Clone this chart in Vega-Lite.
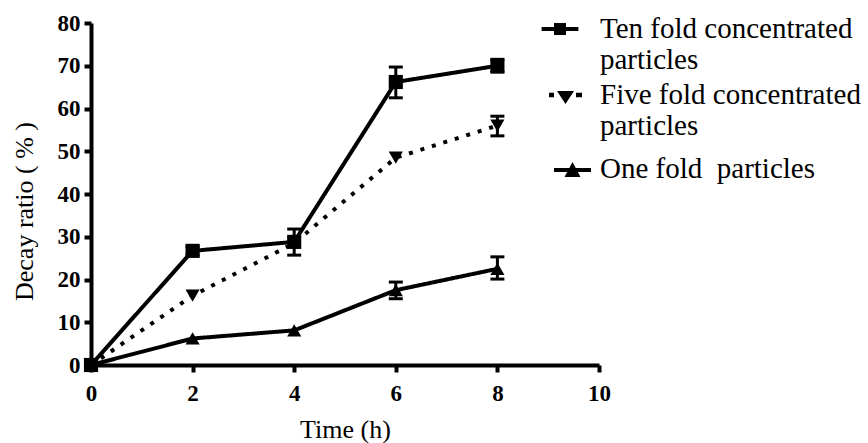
{
  "$schema": "https://vega.github.io/schema/vega-lite/v6.json",
  "width": 508,
  "height": 342,
  "autosize": {"type": "none"},
  "padding": {"left": 91, "top": 23, "right": 269, "bottom": 78},
  "background": "white",
  "config": {
    "view": {"stroke": null},
    "font": "Liberation Serif",
    "legend": {"labelFont": "Liberation Serif", "labelFontSize": 29},
    "axis": {
      "grid": false,
      "domainColor": "black",
      "domainWidth": 4,
      "tickColor": "black",
      "tickWidth": 4,
      "tickSize": 7,
      "labelFont": "Liberation Serif",
      "labelFontWeight": "bold",
      "labelFontSize": 23,
      "labelColor": "black",
      "labelFlush": false,
      "labelOverlap": false,
      "titleFont": "Liberation Serif",
      "titleFontWeight": "normal",
      "titleFontSize": 26,
      "titleColor": "black"
    }
  },
  "datasets": {
    "main": [
      {"series": "Ten", "time": 0, "ratio": 0},
      {"series": "Ten", "time": 2, "ratio": 26.7},
      {"series": "Ten", "time": 4, "ratio": 28.8},
      {"series": "Ten", "time": 6, "ratio": 66.2},
      {"series": "Ten", "time": 8, "ratio": 70.0},
      {"series": "Five", "time": 0, "ratio": 0},
      {"series": "Five", "time": 2, "ratio": 16.2},
      {"series": "Five", "time": 4, "ratio": 28.5},
      {"series": "Five", "time": 6, "ratio": 48.5},
      {"series": "Five", "time": 8, "ratio": 56.0},
      {"series": "One", "time": 0, "ratio": 0},
      {"series": "One", "time": 2, "ratio": 6.2},
      {"series": "One", "time": 4, "ratio": 8.1},
      {"series": "One", "time": 6, "ratio": 17.5},
      {"series": "One", "time": 8, "ratio": 22.5}
    ],
    "err": [
      {"series": "Ten", "time": 2, "lo": 25.7, "hi": 27.7},
      {"series": "Ten", "time": 4, "lo": 25.7, "hi": 31.8},
      {"series": "Ten", "time": 6, "lo": 62.5, "hi": 69.7},
      {"series": "Ten", "time": 8, "lo": 68.5, "hi": 71.5},
      {"series": "Five", "time": 8, "lo": 53.6, "hi": 58.2},
      {"series": "One", "time": 6, "lo": 15.5, "hi": 19.4},
      {"series": "One", "time": 8, "lo": 20.1, "hi": 25.3}
    ]
  },
  "layer": [
    {
      "data": {"name": "err"},
      "mark": {"type": "rule", "strokeWidth": 3, "color": "black"},
      "encoding": {
        "x": {
          "field": "time", "type": "quantitative", "title": "Time (h)",
          "scale": {"domain": [0, 10], "nice": false, "zero": false},
          "axis": {"values": [0, 2, 4, 6, 8, 10], "labelPadding": 10, "titleY": 72, "titleBaseline": "alphabetic"}
        },
        "y": {
          "field": "lo", "type": "quantitative", "title": "Decay ratio ( % )",
          "scale": {"domain": [0, 80], "nice": false},
          "axis": {"values": [0, 10, 20, 30, 40, 50, 60, 70, 80], "labelPadding": 4, "titleX": -67, "titleY": 188, "titleAngle": -90, "titleBaseline": "middle", "titleAlign": "center"}
        },
        "y2": {"field": "hi"}
      }
    },
    {
      "data": {"name": "err"},
      "mark": {"type": "tick", "orient": "horizontal", "size": 14, "thickness": 3, "color": "black", "opacity": 1},
      "encoding": {
        "x": {"field": "time", "type": "quantitative", "title": "Time (h)"},
        "y": {"field": "lo", "type": "quantitative", "title": "Decay ratio ( % )"}
      }
    },
    {
      "data": {"name": "err"},
      "mark": {"type": "tick", "orient": "horizontal", "size": 14, "thickness": 3, "color": "black", "opacity": 1},
      "encoding": {
        "x": {"field": "time", "type": "quantitative", "title": "Time (h)"},
        "y": {"field": "hi", "type": "quantitative", "title": "Decay ratio ( % )"}
      }
    },
    {
      "data": {"name": "main"},
      "mark": {"type": "line", "strokeWidth": 4, "color": "black", "strokeCap": "butt"},
      "encoding": {
        "x": {"field": "time", "type": "quantitative", "title": "Time (h)"},
        "y": {"field": "ratio", "type": "quantitative", "title": "Decay ratio ( % )"},
        "strokeDash": {
          "field": "series", "type": "nominal",
          "scale": {"domain": ["Ten", "Five", "One"], "range": [[1, 0], [4, 8], [1, 0]]},
          "legend": null
        }
      }
    },
    {
      "data": {"name": "main"},
      "mark": {"type": "point", "filled": true, "color": "black", "opacity": 1, "size": 200},
      "encoding": {
        "x": {"field": "time", "type": "quantitative", "title": "Time (h)"},
        "y": {"field": "ratio", "type": "quantitative", "title": "Decay ratio ( % )"},
        "shape": {
          "field": "series", "type": "nominal",
          "scale": {"domain": ["Ten", "Five", "One"], "range": ["square", "triangle-down", "triangle-up"]},
          "legend": null
        }
      }
    },
    {
      "data": {"name": "main"},
      "transform": [{"filter": "false"}],
      "mark": {"type": "point", "filled": true, "color": "black", "opacity": 1},
      "encoding": {
        "x": {"field": "time", "type": "quantitative", "title": "Time (h)"},
        "y": {"field": "ratio", "type": "quantitative", "title": "Decay ratio ( % )"},
        "shape": {
          "field": "series", "type": "nominal",
          "scale": {
            "domain": ["Ten", "Five", "One"],
            "range": [
              "M-0.92,-0.1H0.92V0.1H-0.92Z M-0.3,-0.3H0.3V0.3H-0.3Z",
              "M-0.55,-0.11H-0.3V0.11H-0.55Z M-0.15,-0.2H0.7L0.275,0.45Z M0.8,-0.11H1.1V0.11H0.8Z",
              "M-0.3,-0.05H1.55V0.15H-0.3Z M0.225,0.4L0.625,-0.35L1.025,0.4Z M0.6,-1.55L0.601,-1.55Z"
            ]
          },
          "legend": {
            "orient": "none",
            "legendX": 449,
            "legendY": -14,
            "title": null,
            "padding": 0,
            "symbolSize": 1600,
            "symbolStrokeWidth": 0,
            "symbolFillColor": "black",
            "symbolOpacity": 1,
            "labelFont": "Liberation Serif",
            "labelFontSize": 29,
            "labelLineHeight": 30,
            "labelColor": "black",
            "labelOffset": 20,
            "labelLimit": 400,
            "rowPadding": -3,
            "labelExpr": "datum.label == 'Ten' ? ['Ten fold concentrated', 'particles'] : datum.label == 'Five' ? ['\u2005Five fold concentrated', '\u2005particles'] : '\u2002One fold\u00a0 particles'"
          }
        }
      }
    }
  ],
  "resolve": {"scale": {"shape": "independent"}}
}
